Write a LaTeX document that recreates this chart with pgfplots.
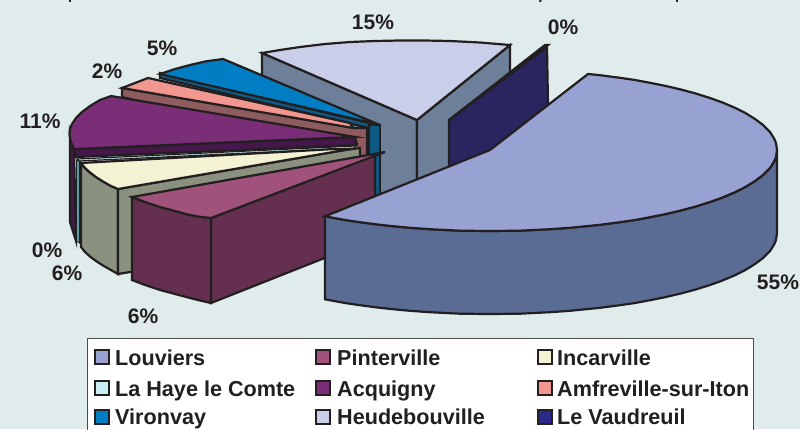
\documentclass[border=0pt]{standalone}
\usepackage{fontspec}
\setmainfont{Liberation Sans}
\usepackage{pgfplots}
\pgfplotsset{compat=1.18}
\definecolor{ink}{HTML}{231F20}
\definecolor{bg}{HTML}{E0ECEC}
\definecolor{louT}{HTML}{98A2D2}\definecolor{louS}{HTML}{5B6C94}
\definecolor{pinT}{HTML}{A0527B}\definecolor{pinS}{HTML}{653050}
\definecolor{incT}{HTML}{F3F2D3}\definecolor{incS}{HTML}{8A917E}
\definecolor{hayT}{HTML}{C8EEF4}\definecolor{hayS}{HTML}{5F9AA8}
\definecolor{acqT}{HTML}{7B2E78}\definecolor{acqS}{HTML}{45174A}
\definecolor{amfT}{HTML}{F29690}\definecolor{amfS}{HTML}{8E5C5E}
\definecolor{virT}{HTML}{007DC3}\definecolor{virS}{HTML}{0F5A85}
\definecolor{heuT}{HTML}{C9CEE9}\definecolor{heuS}{HTML}{6E7F9A}
\definecolor{vauT}{HTML}{2A2A8A}\definecolor{vauS}{HTML}{28255F}
\tikzset{seg/.style={draw=ink,line width=2.2pt,line join=miter,fill=#1},
 lab/.style={font=\bfseries\fontsize{21}{23}\selectfont,text=ink,inner sep=0pt},
 leg/.style={font=\bfseries\fontsize{21.6}{23}\selectfont,text=ink,inner sep=0pt,anchor=base west}}
\pgfplotsset{sw/.style={only marks,mark=square*,mark size=6.6pt,mark options={fill=#1,draw=ink,line width=2pt}}}
\begin{document}
\begin{tikzpicture}
\begin{axis}[scale only axis,width=800pt,height=429pt,xmin=0,xmax=800,ymin=0,ymax=429,y dir=reverse,hide axis,clip=true]
% background
\addplot[fill=bg,draw=none] coordinates {(0,0)(800,0)(800,429)(0,429)} -- cycle;
% title descenders (cropped title)
\addplot[draw=ink,line width=2pt] coordinates {(70,-1)(70,2)};
\addplot[draw=ink,line width=2pt] coordinates {(541,-1)(540,2)};
\addplot[draw=ink,line width=2pt] coordinates {(677,-1)(677,2)};
% Heudebouville 15%
\addplot[seg=heuS] coordinates {(262,53)(417,120)(417,205)(262,205)} -- cycle;
\addplot[seg=heuS] coordinates {(417,120)(510,45)(510,125)(417,205)} -- cycle;
\addplot[seg=heuT] coordinates {(262,53)(280,50)(300,47)(325,44)(350,42)(375,41)(400,40.5)(425,40.5)(450,41)(480,42.5)(510,45)(417,120)} -- cycle;
% Le Vaudreuil 0%
\addplot[seg=vauS] coordinates {(449,120)(547,47)(548,105)(449,190)} -- cycle;
\addplot[seg=vauT] coordinates {(449,120)(545,45)(548,45)} -- cycle;
% Vironvay 5%
\addplot[seg=virS] coordinates {(369,125)(380,125)(380,205)(369,205)} -- cycle;
\addplot[seg=virS] coordinates {(160,73)(369,123)(369,128)(160,78)} -- cycle;
\addplot[seg=virT] coordinates {(160,74)(175,69)(190,65)(205,61.5)(223,59)(380,125)(368,122)} -- cycle;
% Amfreville-sur-Iton 2%
\addplot[seg=amfS] coordinates {(122,88)(355,128)(367,128)(367,157)(355,157)(122,97)} -- cycle;
\addplot[seg=amfT] coordinates {(122,88)(135,83)(148,78)(350,123)(353,128)} -- cycle;
% Acquigny 11%
\addplot[seg=acqS] coordinates {(70,133)(74,149)(76,241)(70,222)} -- cycle;
\addplot[seg=acqS] coordinates {(74,149)(355,137)(357,145)(76,157)} -- cycle;
\addplot[seg=acqT] coordinates {(111,96)(100,100)(90,106)(82,112)(76,118)(72,124)(70,129)(69.5,134)(70.5,141)(74,149)(355,137)} -- cycle;
% La Haye le Comte 0%
\addplot[seg=hayS,line width=0.8pt] coordinates {(76.5,160)(79.5,161)(79.5,243)(76.5,241)} -- cycle;
\addplot[seg=hayT,line width=1.2pt] coordinates {(77,159)(355,146)(355,148)(79,161)} -- cycle;
% Incarville 6%
\addplot[seg=incS] coordinates {(81,163)(85,168)(90,172.5)(96,177)(103,181.5)(110,185.5)(118,189)(118,274)(110,269.5)(103,265.5)(96,261)(90,256.5)(85,252)(81,247)} -- cycle;
\addplot[seg=incS] coordinates {(118,189)(345,150)(360,148)(360,234)(118,274)} -- cycle;
\addplot[seg=incT] coordinates {(81,163)(85,168)(90,172.5)(96,177)(103,181.5)(110,185.5)(118,189)(345,150)(335,149)} -- cycle;
% Pinterville 6%
\addplot[seg=pinS] coordinates {(211,218)(375,155)(375,238)(211,303)} -- cycle;
\addplot[seg=pinS] coordinates {(132,197)(145,202)(160,207)(175,211)(190,215)(200,216.8)(211,218)(211,303)(200,300.5)(190,298)(175,294)(160,290)(145,285)(132,280)} -- cycle;
\addplot[seg=pinT] coordinates {(132,197)(145,202)(160,207)(175,211)(190,215)(200,216.8)(211,218)(385,152)} -- cycle;
% Louviers 55%
\addplot[seg=louS] coordinates {(777,150)(777,233)(776,240)(774,244.7)(770,251)(763,258)(755,264)(745,270.2)(735,275.2)(722,280.7)(710,285)(695,289.7)(680,293.7)(665,297.2)(650,300.2)(635,303)(620,305.2)(600,307.8)(570,310.8)(550,312.2)(520,313.7)(490,314)(460,313.7)(430,312.2)(410,310.8)(390,308.9)(375,307.2)(360,305.2)(345,303)(325,299.3)(325,216.3)(345,220)(360,222.2)(375,224.2)(390,225.9)(410,227.8)(430,229.2)(460,230.7)(490,231)(520,230.7)(550,229.2)(570,227.8)(600,224.8)(620,222.2)(635,220)(650,217.2)(665,214.2)(680,210.7)(695,206.7)(710,202)(722,197.7)(735,192.2)(745,187.2)(755,181)(763,175)(770,168)(774,161.7)(776,157)} -- cycle;
\addplot[seg=louT] coordinates {(490,150)(588,74)(600,75.2)(620,77.8)(635,80)(650,82.8)(665,85.8)(680,89.3)(695,93.3)(710,98)(722,102.3)(735,107.8)(745,112.8)(755,119)(763,125)(770,132)(774,138.3)(776,143)(777,150)(776,157)(774,161.7)(770,168)(763,175)(755,181)(745,187.2)(735,192.2)(722,197.7)(710,202)(695,206.7)(680,210.7)(665,214.2)(650,217.2)(635,220)(620,222.2)(600,224.8)(570,227.8)(550,229.2)(520,230.7)(490,231)(460,230.7)(430,229.2)(410,227.8)(390,225.9)(375,224.2)(360,222.2)(345,220)(325,216.3)} -- cycle;
% percentage labels
\node[lab] at (axis cs:373,22) {15\%};
\node[lab] at (axis cs:563,27) {0\%};
\node[lab] at (axis cs:162,48) {5\%};
\node[lab] at (axis cs:107,71) {2\%};
\node[lab] at (axis cs:40,121) {11\%};
\node[lab] at (axis cs:47,250) {0\%};
\node[lab] at (axis cs:67,273) {6\%};
\node[lab] at (axis cs:143,316) {6\%};
\node[lab] at (axis cs:778,282) {55\%};
% legend
\addplot[fill=white,draw=ink!80,line width=1pt] coordinates {(87,338)(753,338)(753,435)(87,435)} -- cycle;
\addplot[sw=louT] coordinates {(102,357)};
\addplot[sw=pinT] coordinates {(323,357)};
\addplot[sw=incT] coordinates {(545,357)};
\addplot[sw=hayT] coordinates {(102,388)};
\addplot[sw=acqT] coordinates {(323,388)};
\addplot[sw=amfT] coordinates {(545,388)};
\addplot[sw=virT] coordinates {(102,417)};
\addplot[sw=heuT] coordinates {(323,417)};
\addplot[sw=vauT] coordinates {(545,417)};
\node[leg] at (axis cs:115,365) {Louviers};
\node[leg] at (axis cs:337,365) {Pinterville};
\node[leg] at (axis cs:557,365) {Incarville};
\node[leg] at (axis cs:115,396) {La Haye le Comte};
\node[leg] at (axis cs:337,396) {Acquigny};
\node[leg] at (axis cs:557,396) {Amfreville-sur-Iton};
\node[leg] at (axis cs:115,424) {Vironvay};
\node[leg] at (axis cs:337,424) {Heudebouville};
\node[leg] at (axis cs:557,424) {Le Vaudreuil};
\end{axis}
\end{tikzpicture}
\end{document}
